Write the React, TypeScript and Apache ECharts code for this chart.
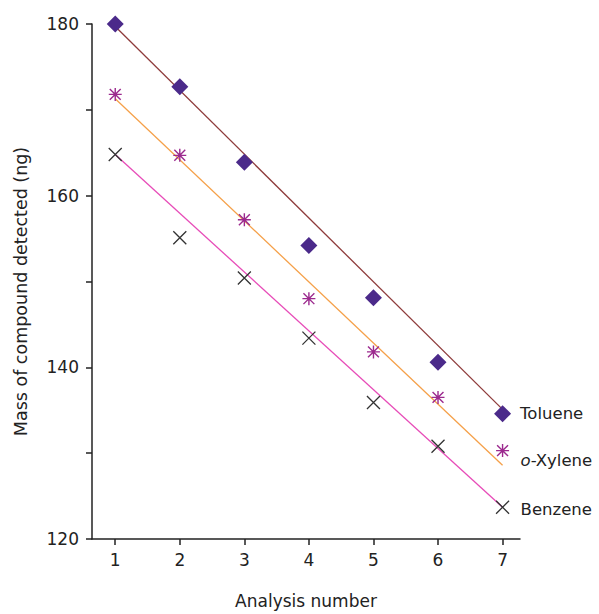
import React, { useEffect, useRef } from "react";
import * as echarts from "echarts";

const analysisNumbers = [1, 2, 3, 4, 5, 6, 7];
const toluene = [180.0, 172.7, 163.9, 154.2, 148.1, 140.6, 134.6];
const oXylene = [171.8, 164.7, 157.2, 148.0, 141.8, 136.5, 130.3];
const benzene = [164.8, 155.1, 150.4, 143.4, 135.9, 130.8, 123.7];
// Fitted trend lines: values at the first and last analysis number
const trendX = [1, 7];
const tolueneTrend = [179.7, 135.1];
const oXyleneTrend = [171.3, 128.6];
const benzeneTrend = [164.8, 123.7];
const seriesNames = ["Toluene", "o-Xylene", "Benzene"];
const yTicks = [120, 140, 160, 180];

const FONT = "DejaVu Sans";
const STAR = "path://M5,0L5,10M0,5L10,5M0.8,0.8L9.2,9.2M9.2,0.8L0.8,9.2";
const CROSS = "path://M0,0L10,10M10,0L0,10";

function pts(xs: number[], ys: number[]) {
  return ys.map((y, i) => [xs[i], y]);
}

export default function App() {
  const ref = useRef<HTMLDivElement>(null);
  useEffect(() => {
    document.body.style.margin = "0";
    document.body.style.overflow = "hidden";
    if (!ref.current) return;
    const chart = echarts.init(ref.current, undefined, { renderer: "svg" });
    const lastLabel = (fmt: string) => ({
      show: true,
      position: "right",
      distance: 9,
      color: "#222",
      fontFamily: FONT,
      fontSize: 16.5,
      formatter: (p: any) => (p.dataIndex === analysisNumbers.length - 1 ? fmt : ""),
      rich: {
        i: { fontStyle: "italic", fontFamily: FONT, fontSize: 16.5, color: "#222" },
      },
    });
    chart.setOption({
      animation: false,
      backgroundColor: "#fff",
      textStyle: { fontFamily: FONT },
      grid: { left: 92, top: 24, right: 79, bottom: 69 },
      xAxis: {
        type: "value",
        min: 0.64,
        max: 7.27,
        name: "Analysis number",
        nameLocation: "middle",
        nameGap: 53,
        nameTextStyle: { fontFamily: FONT, fontSize: 17, color: "#222" },
        axisLine: { show: true, lineStyle: { color: "#222", width: 1.5 } },
        axisTick: { show: true, customValues: analysisNumbers, length: 6, lineStyle: { color: "#222", width: 1.5 } },
        axisLabel: { customValues: analysisNumbers, margin: 12, fontFamily: FONT, fontSize: 17, color: "#222" },
        splitLine: { show: false },
      },
      yAxis: {
        type: "value",
        min: 120,
        max: 180,
        interval: 10,
        name: "Mass of compound detected (ng)",
        nameLocation: "middle",
        nameGap: 62,
        nameTextStyle: { fontFamily: FONT, fontSize: 17.5, color: "#222", padding: [0, 20, 0, 0] },
        axisLine: { show: true, lineStyle: { color: "#222", width: 1.5 } },
        axisTick: { show: true, length: 6, lineStyle: { color: "#222", width: 1.5 } },
        axisLabel: {
          margin: 13,
          fontFamily: FONT,
          fontSize: 17,
          color: "#222",
          formatter: (v: number) => (yTicks.includes(v) ? String(v) : ""),
        },
        splitLine: { show: false },
      },
      series: [
        {
          type: "line",
          data: pts(trendX, tolueneTrend),
          showSymbol: false,
          lineStyle: { color: "#8e3b3b", width: 1.3 },
          z: 1,
        },
        {
          type: "line",
          data: pts(trendX, oXyleneTrend),
          showSymbol: false,
          lineStyle: { color: "#f5a049", width: 1.3 },
          z: 1,
        },
        {
          type: "line",
          data: pts(trendX, benzeneTrend),
          showSymbol: false,
          lineStyle: { color: "#e74cb8", width: 1.3 },
          z: 1,
        },
        {
          name: seriesNames[0],
          type: "scatter",
          data: pts(analysisNumbers, toluene),
          symbol: "diamond",
          symbolSize: 17,
          itemStyle: { color: "#4b2a8a", opacity: 1 },
          label: lastLabel("Toluene"),
          z: 3,
        },
        {
          name: seriesNames[1],
          type: "scatter",
          data: pts(analysisNumbers, oXylene),
          symbol: STAR,
          symbolSize: [13, 13],
          itemStyle: { color: "none", borderColor: "#9c2a8e", borderWidth: 1.4, opacity: 1 },
          label: { ...lastLabel("{i|o}-Xylene"), offset: [0, 10] },
          z: 3,
        },
        {
          name: seriesNames[2],
          type: "scatter",
          data: pts(analysisNumbers, benzene),
          symbol: CROSS,
          symbolSize: 13,
          itemStyle: { color: "none", borderColor: "#333", borderWidth: 1.3, opacity: 1 },
          label: { ...lastLabel("Benzene"), offset: [0, 2] },
          z: 3,
        },
      ],
    });
    return () => chart.dispose();
  }, []);
  return <div ref={ref} style={{ width: 599, height: 614 }} />;
}
